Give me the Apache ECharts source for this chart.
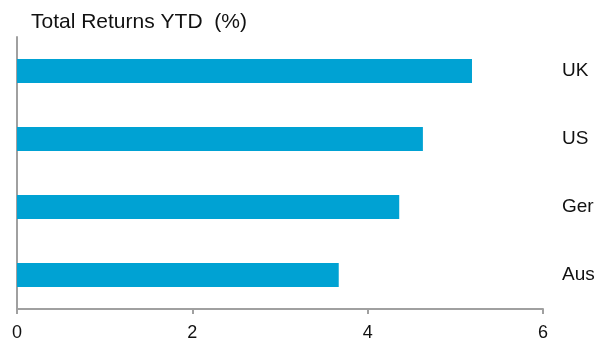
<!DOCTYPE html>
<html>
<head>
<meta charset="utf-8">
<script src="https://cdn.jsdelivr.net/npm/echarts@6/dist/echarts.min.js"></script>
<style>
  html, body { margin: 0; padding: 0; background: #fff; }
  #chart { width: 598px; height: 345px; }
</style>
</head>
<body>
<div id="chart"></div>
<script>
// Total returns year-to-date by market (%)
const markets = ['UK', 'US', 'Ger', 'Aus'];
const returnsYtd = [5.19, 4.63, 4.36, 3.67];
const xTicks = [0, 2, 4, 6];

const font = '"Liberation Sans", Arial, sans-serif';
const chart = echarts.init(document.getElementById('chart'), null, { renderer: 'canvas' });

chart.setOption({
  animation: false,
  title: {
    text: 'Total Returns YTD  (%)',
    left: 31,
    top: 12,
    padding: 0,
    textStyle: { fontFamily: font, fontSize: 21, fontWeight: 'normal', color: '#111' }
  },
  grid: { left: 17, right: 55, top: 37, bottom: 36, containLabel: false },
  xAxis: {
    type: 'value',
    min: xTicks[0],
    max: xTicks[xTicks.length - 1],
    interval: 2,
    axisLine: { show: true, lineStyle: { color: '#a0a0a0', width: 2 } },
    axisTick: { show: true, length: 5, lineStyle: { color: '#a0a0a0', width: 2 } },
    splitLine: { show: false },
    axisLabel: { margin: 15, fontFamily: font, fontSize: 18, color: '#111' }
  },
  yAxis: [
    {
      type: 'category',
      data: markets,
      inverse: true,
      position: 'left',
      axisLine: { show: true, lineStyle: { color: '#a0a0a0', width: 2 } },
      axisTick: { show: false },
      axisLabel: { show: false }
    },
    {
      type: 'category',
      data: markets,
      inverse: true,
      position: 'right',
      axisLine: { show: false },
      axisTick: { show: false },
      axisLabel: { margin: 19, fontFamily: font, fontSize: 19, color: '#111', align: 'left' }
    }
  ],
  series: [{
    type: 'bar',
    data: returnsYtd,
    yAxisIndex: 0,
    barWidth: 24,
    itemStyle: { color: '#00a2d3' }
  }]
});
</script>
</body>
</html>
